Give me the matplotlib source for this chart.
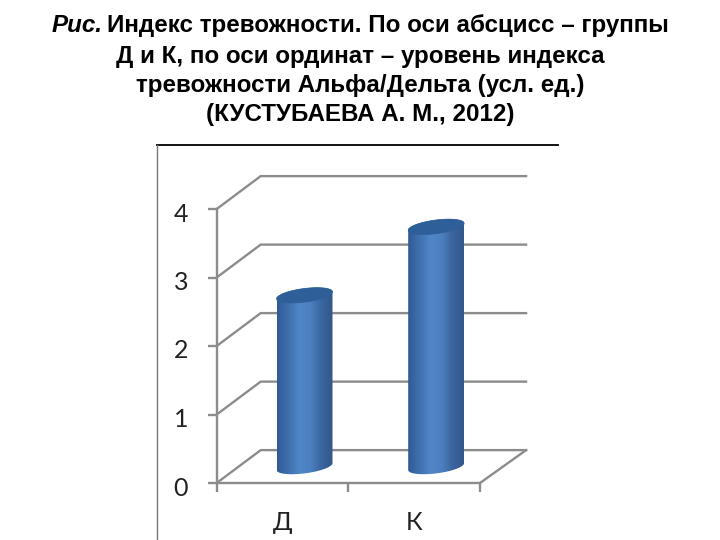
# -*- coding: utf-8 -*-
# Индекс тревожности: псевдо-3D цилиндры как в Excel
import numpy as np
import matplotlib
matplotlib.use("Agg")
import matplotlib.pyplot as plt
from matplotlib.colors import LinearSegmentedColormap
from matplotlib.patches import PathPatch, Polygon
from matplotlib.path import Path
from matplotlib.lines import Line2D
from matplotlib.transforms import ScaledTranslation

groups = ["Д", "К"]
values = [2.5, 3.5]
y_ticks = [0, 1, 2, 3, 4]

title_start = "Рис."
title_line1 = "Индекс тревожности. По оси абсцисс – группы"
title_rest = ["Д и К, по оси ординат – уровень индекса",
              "тревожности Альфа/Дельта (усл. ед.)",
              "(КУСТУБАЕВА А. М., 2012)"]
title_baselines = [63, 92, 121]

W, H = 720, 540
GRID = "#8C8C8C"
# сдвиг задней стенки в единицах данных
DX, DY = 0.334, 0.48
END_X = 2.35
BAR_W = 0.425

plt.rcParams["font.family"] = ["Liberation Sans", "DejaVu Sans"]

fig = plt.figure(figsize=(W / 100, H / 100), dpi=100)
ax = fig.add_axes([216.7 / W, (H - 483) / H, 263.3 / W, 274 / H])
ax.set_xlim(0, 2)
ax.set_ylim(0, 4)
ax.patch.set_visible(False)
ax.autoscale(False)

# стенка и пол
for v in y_ticks:
    ax.plot([0, DX, END_X], [v, v + DY, v + DY], color=GRID, lw=1.7,
            clip_on=False, zorder=1, solid_joinstyle="miter")
ax.plot([2, END_X], [0, DY], color=GRID, lw=1.7, clip_on=False, zorder=1)

# цилиндры
cmap = LinearSegmentedColormap.from_list(
    "cyl", ["#2F5B94", "#3F6FAE", "#5086C8", "#4C80C0", "#3A659E", "#32578A"])
grad = np.linspace(0, 1, 256).reshape(1, -1)
t = np.linspace(0, 2 * np.pi, 80)
EA = BAR_W / 2
EB = 0.1
TILT = 0.05


def ring(cx, cy, tt):
    return np.column_stack([cx + EA * np.cos(tt),
                            cy + EB * np.sin(tt) + TILT * np.cos(tt)])


for i, v in enumerate(values):
    cx = i + 0.5 + DX / 2
    cy0 = DY / 2
    cy1 = v + DY / 2
    top = ring(cx, cy1, np.linspace(np.pi, 0, 40))
    bottom = ring(cx, cy0, np.linspace(2 * np.pi, np.pi, 40))
    body = np.vstack([top, bottom, top[:1]])
    patch = PathPatch(Path(body), transform=ax.transData, fc="none", ec="none")
    ax.add_patch(patch)
    im = ax.imshow(grad, cmap=cmap, aspect="auto", zorder=3,
                   extent=[cx - EA, cx + EA, -0.3, v + 1])
    im.set_clip_path(patch)
    ax.add_patch(Polygon(ring(cx, cy1, t), closed=True, fc="#2F5F99",
                         ec="#2F5F99", lw=0.5, zorder=4))

ax.set_xlim(0, 2)
ax.set_ylim(0, 4)

# оси
for s in ["top", "right"]:
    ax.spines[s].set_visible(False)
for s in ["left", "bottom"]:
    ax.spines[s].set_color(GRID)
    ax.spines[s].set_linewidth(1.7)
ax.set_yticks(y_ticks)
ax.set_xticks([0, 1, 2])
ax.set_xticklabels([])
ax.tick_params(axis="both", color=GRID, width=1.7, length=6.5)
ax.tick_params(axis="y", pad=14, labelsize=18, labelcolor="#222222")
# подписи чуть ниже засечек, как в оригинале
shift = ScaledTranslation(0, -3 / 100, fig.dpi_scale_trans)
for lab in ax.get_yticklabels():
    lab.set_fontfamily("Lato")
    lab.set_transform(lab.get_transform() + shift)
for i, g in enumerate(groups):
    ax.annotate(g, (i + 0.5, 0), xytext=(0, -20), xycoords=("data", "axes fraction"),
                textcoords="offset points", ha="center", va="top",
                fontsize=18, color="#222222", family="Lato")

# внешняя рамка
fig.add_artist(Line2D([157 / W, 558 / W], [1 - 145 / H, 1 - 145 / H], color="#111111", lw=1.4))
fig.add_artist(Line2D([157 / W, 157 / W], [1 - 145 / H, 0], color="#777777", lw=1.0))

# заголовок
TS = 17.4
fig.text(103 / W, 1 - 32 / H, title_start, style="italic", ha="right", va="baseline",
         fontsize=TS, color="black", weight="bold")
fig.text(107 / W, 1 - 32 / H, title_line1, ha="left", va="baseline",
         fontsize=TS, color="black", weight="bold")
for y, line in zip(title_baselines, title_rest):
    fig.text(360 / W, 1 - y / H, line, ha="center", va="baseline",
             fontsize=TS, color="black", weight="bold")

fig.savefig("out.png", dpi=100)
